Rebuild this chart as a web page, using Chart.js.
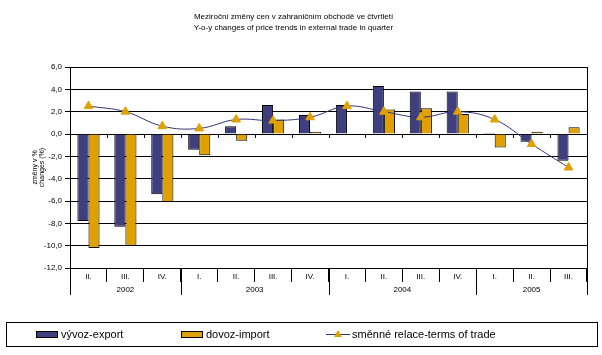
<!DOCTYPE html>
<html>
<head>
<meta charset="utf-8">
<script src="https://cdn.jsdelivr.net/npm/chart.js@4.4.1/dist/chart.umd.min.js"></script>
<style>
html,body{margin:0;padding:0;background:#fff;}
#wrap{width:602px;height:355px;position:relative;}
</style>
</head>
<body>
<div id="wrap"><canvas id="c" width="602" height="355"></canvas></div>
<script>
const categories = ['II.','III.','IV.','I.','II.','III.','IV.','I.','II.','III.','IV.','I.','II.','III.'];
const years = ['2002','2003','2004','2005'];
const yearSpans = [3,4,4,3];
const exportVals = [-7.8,-8.3,-5.4,-1.4,0.7,2.6,1.7,2.6,4.3,3.8,3.8,0.1,-0.7,-2.4];
const importVals = [-10.2,-10.0,-6.1,-1.9,-0.6,1.3,0.2,0.0,2.2,2.3,1.8,-1.2,0.2,0.6];
const termsVals = [2.5,2.0,0.7,0.5,1.3,1.2,1.5,2.5,2.0,1.5,2.0,1.3,-0.9,-3.0];
const seriesNames = ['vývoz-export','dovoz-import','směnné relace-terms of trade'];
const titleLines = ['Meziroční změny cen v zahraničním obchodě ve čtvrtletí','Y-o-y changes of price trends in external trade in quarter'];
const yTitle = ['změny v %','changes (%)'];

const FONT = 'Arial, "Liberation Sans", sans-serif';
const BLUE = '#3F3F80', ORANGE = '#E0A000', LINE = '#333377';

const extras = {
  id:'extras',
  afterDraw(chart){
    const ctx = chart.ctx, a = chart.chartArea, xs = chart.scales.x, ys = chart.scales.y;
    ctx.save();
    ctx.strokeStyle = '#000'; ctx.lineWidth = 1;
    // right border
    ctx.beginPath(); ctx.moveTo(Math.round(a.right)+0.5, a.top); ctx.lineTo(Math.round(a.right)+0.5, a.bottom); ctx.stroke();
    // small ticks at zero line
    const y0 = Math.round(ys.getPixelForValue(0));
    const half = (xs.getPixelForValue(1) - xs.getPixelForValue(0))/2;
    for (let i=1;i<categories.length;i++){
      const x = Math.round(xs.getPixelForValue(i) - half)+0.5;
      ctx.beginPath(); ctx.moveTo(x, y0); ctx.lineTo(x, y0+4); ctx.stroke();
    }
    // year dividers and labels
    let idx = 0;
    const bounds = [0];
    yearSpans.forEach(s=>{ idx += s; bounds.push(idx); });
    bounds.forEach(b=>{
      const x = Math.round(xs.getPixelForValue(b) - half)+0.5;
      ctx.beginPath(); ctx.moveTo(x, a.bottom); ctx.lineTo(x, a.bottom+27); ctx.stroke();
    });
    ctx.fillStyle = '#000'; ctx.font = '8px '+FONT; ctx.textAlign='center'; ctx.textBaseline='middle';
    years.forEach((yr,i)=>{
      const x1 = xs.getPixelForValue(bounds[i]) - half, x2 = xs.getPixelForValue(bounds[i+1]) - half;
      ctx.fillText(yr, (x1+x2)/2, a.bottom+22);
    });
    // legend box
    ctx.strokeRect(6.5, 322.5, 591, 24);
    ctx.font = '11px '+FONT; ctx.textAlign='left'; ctx.textBaseline='middle';
    const ly = 334;
    const starts = [36,181,326];
    chart.data.datasets.forEach((ds,i)=>{
      const x = starts[i];
      if (ds.type === 'line'){
        ctx.strokeStyle = ds.borderColor; ctx.lineWidth = 1;
        ctx.beginPath(); ctx.moveTo(x, ly+0.5); ctx.lineTo(x+24, ly+0.5); ctx.stroke();
        ctx.fillStyle = ds.pointBackgroundColor;
        ctx.beginPath(); ctx.moveTo(x+12, ly-4); ctx.lineTo(x+16, ly+3); ctx.lineTo(x+8, ly+3); ctx.closePath(); ctx.fill();
        ctx.fillStyle = '#000'; ctx.fillText(ds.label, x+26, ly+1);
      } else {
        ctx.fillStyle = ds.backgroundColor; ctx.fillRect(x, ly-3, 22, 7);
        ctx.strokeStyle = '#000'; ctx.strokeRect(x+0.5, ly-3+0.5, 21, 6);
        ctx.fillStyle = '#000'; ctx.fillText(ds.label, x+25, ly+1);
      }
    });
    ctx.restore();
  }
};

new Chart(document.getElementById('c'), {
  type:'bar',
  data:{
    labels: categories,
    datasets:[
      {label: seriesNames[0], data: exportVals, backgroundColor: BLUE, borderColor:'#000', borderWidth:1, order:1},
      {label: seriesNames[1], data: importVals, backgroundColor: ORANGE, borderColor:'#000', borderWidth:1, order:1},
      {type:'line', label: seriesNames[2], data: termsVals, borderColor: LINE, borderWidth:1, tension:0.4,
       pointStyle:'triangle', pointRadius:5, pointBackgroundColor: ORANGE, pointBorderColor: ORANGE, pointBorderWidth:1, order:0}
    ]
  },
  options:{
    responsive:false, animation:false,
    layout:{padding:{left:0,right:15,top:0,bottom:47}},
    datasets:{bar:{barPercentage:1, categoryPercentage:0.6}},
    plugins:{
      legend:{display:false}, tooltip:{enabled:false},
      title:{display:true, text:titleLines, color:'#000', font:{family:FONT, size:8, weight:'normal', lineHeight:1.375}, padding:{top:11, bottom:34}}
    },
    scales:{
      x:{
        grid:{display:true, drawOnChartArea:false, drawTicks:true, tickLength:14, color:'#000', offset:true},
        border:{display:false},
        ticks:{color:'#000', font:{family:FONT, size:8}, padding:-10, maxRotation:0, autoSkip:false},
        afterFit(s){ s.height = 40; }
      },
      y:{
        min:-12, max:6,
        grid:{color:'#000', lineWidth:1, tickLength:5, drawTicks:true},
        border:{display:true, color:'#000'},
        ticks:{stepSize:2, color:'#000', font:{family:FONT, size:8}, padding:3,
               callback:(v)=>v.toFixed(1).replace('.',',')},
        title:{display:true, text:yTitle, color:'#000', font:{family:FONT, size:7, lineHeight:1.1}, padding:{top:31, bottom:0}},
        afterFit(s){ s.width = 70; }
      }
    }
  },
  plugins:[extras]
});
</script>
</body>
</html>
